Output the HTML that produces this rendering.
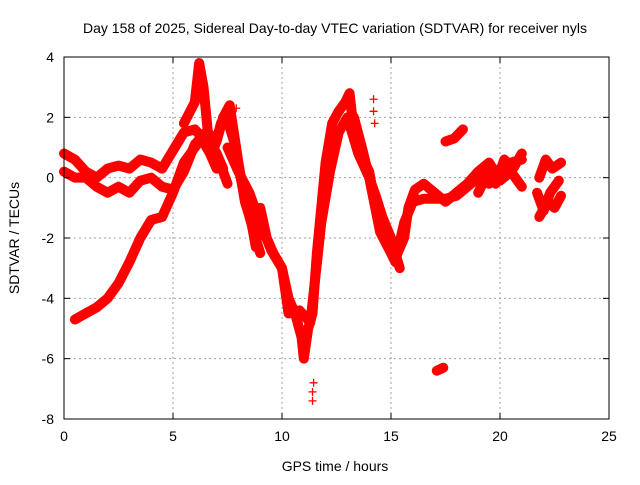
<!DOCTYPE html>
<html><head><meta charset="utf-8"><style>
body{margin:0;background:#fff}
svg text{font-family:"Liberation Sans",sans-serif;font-size:14px;fill:#000}
</style></head><body>
<svg id="chart" width="640" height="480" xmlns="http://www.w3.org/2000/svg">
<rect width="640" height="480" fill="#fff"/>
<text x="335" y="33" text-anchor="middle">Day 158 of 2025, Sidereal Day-to-day VTEC variation (SDTVAR) for receiver nyls</text>
<g id="grid"></g>
<g id="series"></g>
<g id="axes"></g>
<text x="335" y="471" text-anchor="middle">GPS time / hours</text>
<text transform="translate(19,238) rotate(-90)" text-anchor="middle">SDTVAR / TECUs</text>
</svg>
<script>
const xTicks=[0,5,10,15,20,25];
const yTicks=[4,2,0,-2,-4,-6,-8];
const trackA_t=[0,0.5,1,1.5,2,2.5,3,3.5,4,4.5,5,5.5,6,6.5,7,7.3];
const trackA_v=[0.8,0.6,0.2,0.0,0.3,0.4,0.3,0.6,0.5,0.3,0.9,1.5,1.6,1.2,0.8,0.3];
const trackB_t=[0,0.5,1,1.5,2,2.5,3,3.5,4,4.5,5,5.5,6,6.5,7,7.5];
const trackB_v=[0.2,0.0,0.0,-0.3,-0.5,-0.3,-0.5,-0.1,0.0,-0.3,-0.4,0.2,1.1,1.5,0.8,-0.2];
const trackC_t=[0.5,1,1.5,2,2.5,3,3.5,4,4.5,5,5.5,6,6.3,6.7,7];
const trackC_v=[-4.7,-4.5,-4.3,-4.0,-3.5,-2.8,-2.0,-1.4,-1.3,-0.5,0.5,1.0,1.3,0.8,0.3];
const trackD_t=[5.5,6,6.2,6.4,6.6,7,7.3,7.6,8,8.3,8.6,8.8,9,9.3,9.6,10,10.3,10.6,10.9,11.0,11.2,11.4,11.6,11.8,12,12.3,12.6,12.9,13.1,13.3,13.6,14,14.3,14.6,15,15.3,15.6,15.8,16.1,16.5,17,17.5,18,18.5,19,19.5,20,20.5,21];
const trackD_v=[1.8,2.5,3.8,3.0,1.5,1.2,2.0,2.4,0.5,-0.8,-1.5,-2.3,-1.0,-2.0,-2.5,-3.0,-4.0,-4.5,-5.3,-6.0,-5.0,-4.5,-2.5,-1.0,0.5,1.8,2.2,2.5,2.8,1.5,0.8,0.2,-1.0,-1.5,-2.3,-2.5,-2.0,-1.0,-0.4,-0.2,-0.5,-0.8,-0.5,-0.2,0.2,0.5,-0.1,0.2,-0.3];
const trackE_t=[7.5,8,8.5,9,9.5,10,10.3,10.8,11.3,11.5,11.8,12.2,12.6,13,13.5,14,14.5,15,15.2,15.6,16,16.5,17,17.5,18,18.5,19,19.5,20,20.5,21];
const trackE_v=[1.0,0.2,-0.5,-1.5,-2.4,-3.0,-4.5,-4.4,-4.8,-3.5,-1.5,0.2,1.5,2.0,0.8,0.0,-1.8,-2.5,-2.8,-1.5,-0.8,-0.7,-0.7,-0.7,-0.6,-0.3,0.0,-0.2,0.3,0.5,0.6];
const trackF_t=[21.8,22.2,22.5,22.8];
const trackF_v=[-1.3,-0.8,-1.0,-0.6];
const trackG_t=[21.8,22.1,22.4,22.8];
const trackG_v=[0.0,0.6,0.3,0.5];
const trackH_t=[17.5,17.9,18.3];
const trackH_v=[1.2,1.3,1.6];
const trackI_t=[17.1,17.4];
const trackI_v=[-6.4,-6.3];
const trackJ_t=[6.9,7.2,7.5,7.8,8.1,8.4,8.7,9.0];
const trackJ_v=[1.0,1.8,1.9,1.2,0.0,-1.0,-1.8,-2.5];
const trackK_t=[13.3,13.7,14.0,14.3,14.6,15.0,15.4];
const trackK_v=[2.0,0.9,0.0,-0.6,-1.3,-2.0,-3.0];
const trackL_t=[19.0,19.4,19.8,20.2,20.6,21.0];
const trackL_v=[-0.5,0.1,-0.2,0.6,0.3,0.8];
const trackM_t=[21.7,22.0,22.3,22.7];
const trackM_v=[-0.5,-1.1,-0.5,-0.1];
const spike_t=[11.4,11.4,11.45,14.2,14.2,14.25,7.9];
const spike_v=[-7.4,-7.1,-6.8,2.6,2.2,1.8,2.3];
const tracks=[[trackA_t,trackA_v],[trackB_t,trackB_v],[trackC_t,trackC_v],[trackD_t,trackD_v],[trackE_t,trackE_v],[trackF_t,trackF_v],[trackG_t,trackG_v],[trackH_t,trackH_v],[trackI_t,trackI_v],[trackJ_t,trackJ_v],[trackK_t,trackK_v],[trackL_t,trackL_v],[trackM_t,trackM_v]];
const X0=64,X1=609,Y0=57,Y1=419;
const xs=t=>X0+(t-0)/(25-0)*(X1-X0);
const ys=v=>Y0+(4-v)/(4-(-8))*(Y1-Y0);
const NS="http://www.w3.org/2000/svg";
function mk(tag,attrs,parent){const e=document.createElementNS(NS,tag);for(const k in attrs)e.setAttribute(k,attrs[k]);parent.appendChild(e);return e;}
const grid=document.getElementById('grid'),axes=document.getElementById('axes'),ser=document.getElementById('series');
xTicks.forEach(t=>{
 const x=xs(t);
 if(t>0&&t<25){const l=mk('line',{x1:x,x2:x,y1:Y0,y2:Y1,stroke:'#a0a0a0','stroke-dasharray':'2,3'},grid);
 
 }
 mk('line',{x1:x,x2:x,y1:Y1,y2:Y1-6,stroke:'#000'},axes);
 mk('line',{x1:x,x2:x,y1:Y0,y2:Y0+6,stroke:'#000'},axes);
 const tx=mk('text',{x:x,y:Y1+22,'text-anchor':'middle'},axes);tx.textContent=t;
 
 
});
yTicks.forEach(v=>{
 const y=ys(v);
 if(v<4&&v>-8){const l=mk('line',{x1:X0,x2:X1,y1:y,y2:y,stroke:'#a0a0a0','stroke-dasharray':'2,3'},grid);
 
 }
 mk('line',{x1:X0,x2:X0+6,y1:y,y2:y,stroke:'#000'},axes);
 mk('line',{x1:X1,x2:X1-6,y1:y,y2:y,stroke:'#000'},axes);
 const tx=mk('text',{x:X0-10,y:y+5,'text-anchor':'end'},axes);tx.textContent=v;
 
 
});
const fr=mk('rect',{x:X0,y:Y0,width:X1-X0,height:Y1-Y0,fill:'none',stroke:'#000'},axes);


function plus(x,y){const p=mk('path',{d:`M${x-4},${y}h8M${x},${y-4}v8`,stroke:'#f00','stroke-width':1.3},ser);
 
 }
tracks.forEach(([T,V])=>{
 const pts=T.map((t,i)=>xs(t)+','+ys(V[i])).join(' ');
 const pl=mk('polyline',{points:pts,fill:'none',stroke:'#f00','stroke-width':10,'stroke-linejoin':'round','stroke-linecap':'round'},ser);
 
 
 T.forEach((t,i)=>plus(xs(t),ys(V[i])));
});
spike_t.forEach((t,i)=>{plus(xs(t),ys(spike_v[i]));});
</script>
</body></html>
